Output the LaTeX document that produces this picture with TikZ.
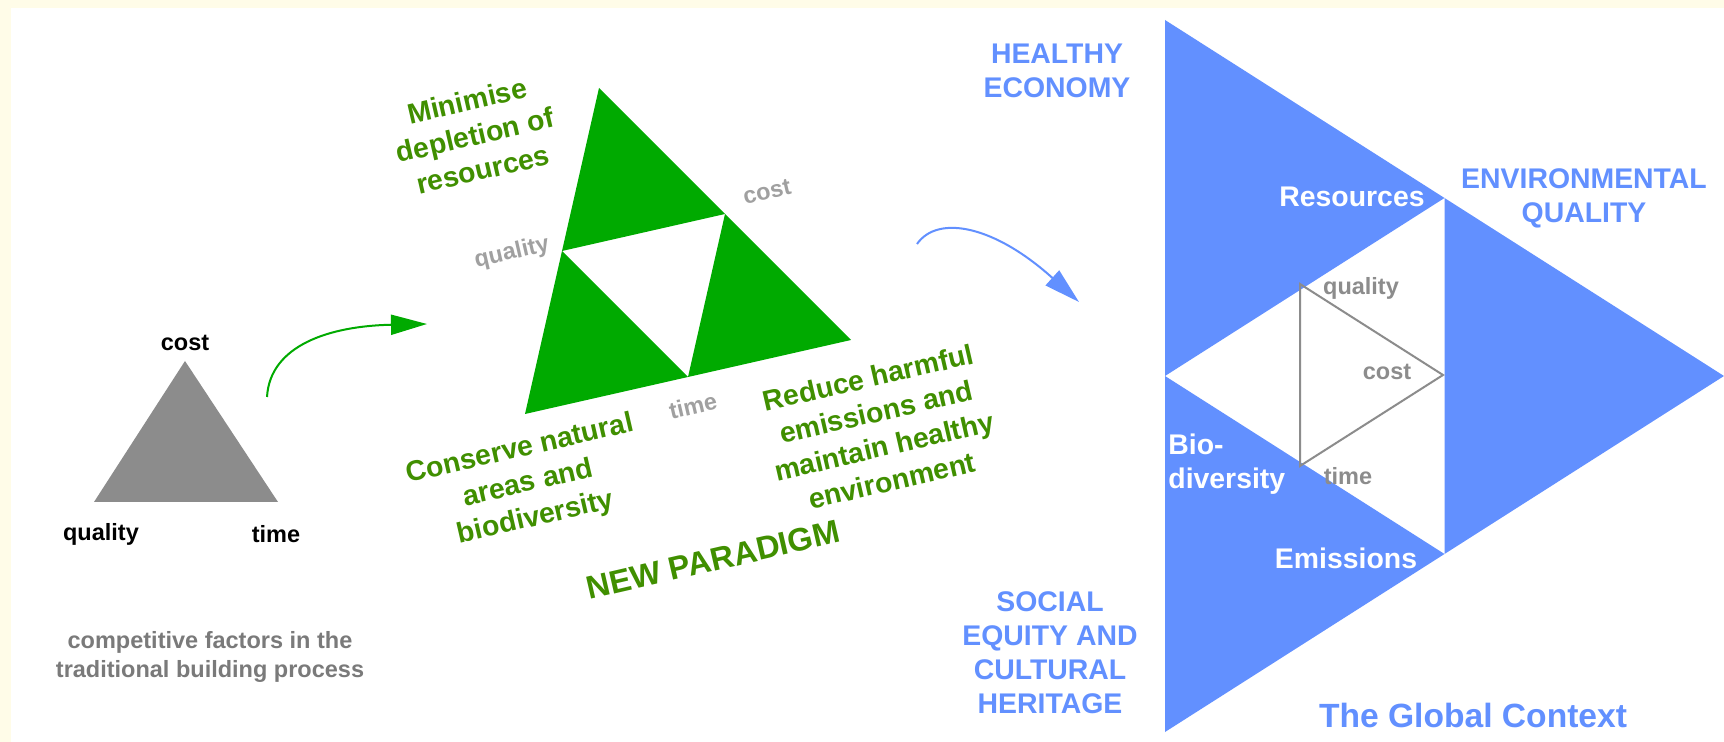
\documentclass[tikz,border=0pt]{standalone}
\usepackage{fontspec}
\setmainfont{Liberation Sans}
\usetikzlibrary{arrows.meta,calc}

\definecolor{cream}{RGB}{255,252,232}
\definecolor{leafgreen}{RGB}{0,170,0}
\definecolor{textgreen}{RGB}{64,143,0}
\definecolor{skyblue}{RGB}{98,144,255}
\definecolor{midgray}{RGB}{140,140,140}
\definecolor{palegray}{RGB}{160,160,160}
\definecolor{capgray}{RGB}{122,122,122}

\begin{document}
\begin{tikzpicture}[x=0.5pt,y=-0.5pt,
    smalltxt/.style={inner sep=0pt,font=\bfseries\fontsize{11.75}{14.5}\selectfont},
    bigtxt/.style={inner sep=0pt,align=center,font=\bfseries\fontsize{14.2}{17}\selectfont},
    tilted/.style={rotate=13,font=\bfseries\fontsize{14.2}{17.6}\selectfont},
    arr/.style={line width=1pt,-{Triangle[length=18pt,width=10pt]}}]
    \fill[cream] (0,0) rectangle (1724,742);
    \fill[white] (11,8) rectangle (1724,742);
    \useasboundingbox (0,0) rectangle (1724,742);

    % traditional triangle
    \fill[midgray] (185,361) -- (94,502) -- (278,502) -- cycle;
    \node[smalltxt] (cost) at (185,343) {cost};
    \node[smalltxt] (quality) at (101,534) {quality};
    \node[smalltxt] (time) at (276,534) {time};
    \node[smalltxt,text=capgray,align=center] (caption) at (210,657) {competitive factors in the\\traditional building process};

    % new paradigm
    \coordinate (ga) at (599,88);
    \coordinate (gl) at (525,414);
    \coordinate (gr) at (851,340);
    \coordinate (gaq) at ($(ga)!0.5!(gl)$);
    \coordinate (gac) at ($(ga)!0.5!(gr)$);
    \coordinate (gat) at ($(gl)!0.5!(gr)$);
    \fill[leafgreen] (ga) -- (gaq) -- (gac) -- cycle;
    \fill[leafgreen] (gaq) -- (gl) -- (gat) -- cycle;
    \fill[leafgreen] (gac) -- (gat) -- (gr) -- cycle;
    \node[smalltxt,rotate=13,text=palegray] (gquality) at (512,253) {quality};
    \node[smalltxt,rotate=13,text=palegray] (gcost) at (767,192) {cost};
    \node[smalltxt,rotate=13,text=palegray] (gtime) at (693,406) {time};
    \node[bigtxt,tilted,text=textgreen] (minimise) at (475,135) {Minimise\\depletion of\\resources};
    \node[bigtxt,tilted,text=textgreen] (conserve) at (528,484) {Conserve natural\\areas and\\biodiversity};
    \node[bigtxt,tilted,text=textgreen] (reduce) at (880,429) {Reduce harmful\\emissions and\\maintain healthy\\environment};
    \node[bigtxt,rotate=13,text=textgreen,font=\bfseries\fontsize{16.2}{19}\selectfont] (paradigm) at (713,560) {NEW PARADIGM};

    \coordinate (gs) at (267,397);
    \coordinate (ge) at (427,324);
    \draw[arr,leafgreen] (gs) .. controls (270,345) and (330,326) .. (ge);

    % global context
    \coordinate (btl) at (1165,20);
    \coordinate (bbl) at (1165,732);
    \coordinate (br) at (1724,376);
    \coordinate (blm) at ($(btl)!0.5!(bbl)$);
    \coordinate (btm) at ($(btl)!0.5!(br)$);
    \coordinate (bbm) at ($(bbl)!0.5!(br)$);
    \fill[skyblue] (btl) -- (btm) -- (blm) -- cycle;
    \fill[skyblue] (btm) -- (br) -- (bbm) -- cycle;
    \fill[skyblue] (blm) -- (bbm) -- (bbl) -- cycle;
    \draw[midgray,line width=1pt] (1300,284) -- (1443,375) -- (1300,466) -- cycle;
    \node[smalltxt,text=midgray] (bquality) at (1361,288) {quality};
    \node[smalltxt,text=midgray] (bcost) at (1387,372) {cost};
    \node[smalltxt,text=midgray] (btime) at (1348,476) {time};
    \node[bigtxt,text=white] (res) at (1352,197) {Resources};
    \node[bigtxt,text=white,align=left,anchor=west] (bio) at (1168,464) {Bio-\\diversity};
    \node[bigtxt,text=white] (emis) at (1346,558) {Emissions};
    \node[bigtxt,text=skyblue] (healthy) at (1057,71) {HEALTHY\\ECONOMY};
    \node[bigtxt,text=skyblue] (envq) at (1584,198) {ENVIRONMENTAL\\QUALITY};
    \node[bigtxt,text=skyblue] (social) at (1050,653) {SOCIAL\\EQUITY AND\\CULTURAL\\HERITAGE};
    \node[bigtxt,text=skyblue,font=\bfseries\fontsize{16.8}{20}\selectfont] (globalctx) at (1473,715) {The Global Context};

    \coordinate (bs) at (917,244);
    \coordinate (be) at (1079,302);
    \draw[arr,skyblue] (bs) .. controls (938,214) and (995,226) .. (be);
\end{tikzpicture}
\end{document}
